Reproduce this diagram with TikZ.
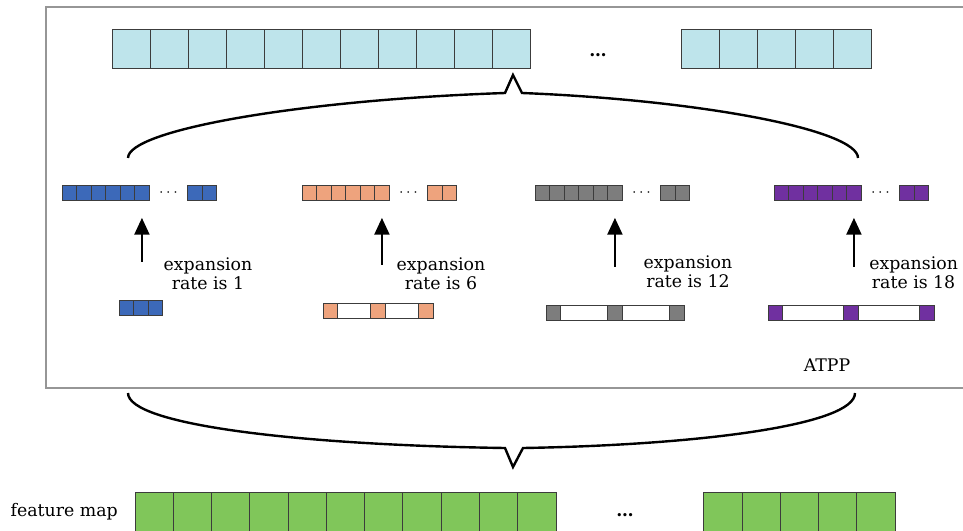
\documentclass[tikz,border=0pt]{standalone}
\usepackage{fontspec}
\setmainfont{DejaVu Serif}
\usepackage{tikz}
\usetikzlibrary{positioning}
\usetikzlibrary{arrows.meta}

\definecolor{cyanc}{RGB}{190,228,235}
\definecolor{bluec}{RGB}{60,105,185}
\definecolor{orangec}{RGB}{238,163,125}
\definecolor{grayc}{RGB}{125,125,125}
\definecolor{purplec}{RGB}{112,48,160}
\definecolor{greenc}{RGB}{128,198,90}
\definecolor{edgec}{RGB}{60,60,60}
\definecolor{framec}{RGB}{150,150,150}

% a row of cells, each one right of the one before
\newcommand{\cellrow}[4]{%
  \node (#1-1) [#3, #4] {};
  \foreach \i [remember=\i as \j (initially 1)] in {2,...,#2}
    \node (#1-\i) [#3, right = 0pt of #1-\j] {};
}

\begin{document}
\begin{tikzpicture}
          [x=0.75pt, y=-0.75pt,
           cellbox/.style={draw=edgec, line width=0.6pt, inner sep=0pt, outer sep=0pt},
           bigcell/.style={cellbox, fill=cyanc, minimum width=28.5pt, minimum height=29.25pt},
           greencell/.style={cellbox, fill=greenc, minimum width=28.7pt, minimum height=29.25pt},
           smallcell/.style={cellbox, minimum width=10.9pt, minimum height=11.25pt},
           dilbox/.style={cellbox, fill=white, minimum height=11.25pt},
           ellip/.style={inner sep=0pt, minimum width=28.5pt, font=\fontsize{13pt}{14pt}\selectfont\bfseries},
           ratetext/.style={font=\fontsize{13pt}{14pt}\selectfont, align=center, inner sep=0pt},
           uparrow/.style={line width=2pt, -{Triangle[length=12.5pt,width=11pt]},
                           shorten >=13pt, shorten <=29pt},
           brace/.style={line width=1.8pt, line join=miter},
           frame/.style={draw=framec, line width=1.1pt}]
          \useasboundingbox (0,0) rectangle (963,531);

          % ATPP frame
          \draw[frame] (46,7) rectangle (970,388);
          \node (atpp) [ratetext] at (827,365) {ATPP};

          % output row
          \cellrow{c}{11}{bigcell}{at={(112.7,48.8)}, anchor=west}
          \cellrow{cr}{5}{bigcell}{right = 112.7pt of c-11}
          \node (cdots) [ellip] at (598,55) {\ldots};

          % branches
          \cellrow{b}{6}{smallcell, fill=bluec}{at={(62,193)}, anchor=west}
          \node (bdots) [ellip, right = 0pt of b-6] {$\cdots$};
          \cellrow{bt}{2}{smallcell, fill=bluec}{right = 0pt of bdots}

          \cellrow{o}{6}{smallcell, fill=orangec}{at={(302,193)}, anchor=west}
          \node (odots) [ellip, right = 0pt of o-6] {$\cdots$};
          \cellrow{ot}{2}{smallcell, fill=orangec}{right = 0pt of odots}

          \cellrow{k}{6}{smallcell, fill=grayc}{at={(535,193)}, anchor=west}
          \node (kdots) [ellip, right = 0pt of k-6] {$\cdots$};
          \cellrow{kt}{2}{smallcell, fill=grayc}{right = 0pt of kdots}

          \cellrow{p}{6}{smallcell, fill=purplec}{at={(774,193)}, anchor=west}
          \node (pdots) [ellip, right = 0pt of p-6] {$\cdots$};
          \cellrow{pt}{2}{smallcell, fill=purplec}{right = 0pt of pdots}

          % kernels
          \cellrow{bs}{3}{smallcell, fill=bluec}{at={(119,308)}, anchor=west}

          \node (os) [dilbox, minimum width=82.5pt] at (378,311) {};
          \node (os1) [smallcell, fill=orangec, anchor=west] at (os.west) {};
          \node (os2) [smallcell, fill=orangec] at (os.center) {};
          \node (os3) [smallcell, fill=orangec, anchor=east] at (os.east) {};

          \node (ks) [dilbox, minimum width=103.5pt] at (615,313) {};
          \node (ks1) [smallcell, fill=grayc, anchor=west] at (ks.west) {};
          \node (ks2) [smallcell, fill=grayc] at (ks.center) {};
          \node (ks3) [smallcell, fill=grayc, anchor=east] at (ks.east) {};

          \node (ps) [dilbox, minimum width=124.5pt] at (851,313) {};
          \node (ps1) [smallcell, fill=purplec, anchor=west] at (ps.west) {};
          \node (ps2) [smallcell, fill=purplec] at (ps.center) {};
          \node (ps3) [smallcell, fill=purplec, anchor=east] at (ps.east) {};

          \draw[uparrow] (bs-2.north -| b-6) -- (b-6.south);
          \draw[uparrow] (os.north -| o-6) -- (o-6.south);
          \draw[uparrow] (ks.north -| k-6) -- (k-6.south);
          \draw[uparrow] (ps.north -| p-6) -- (p-6.south);

          \node (r1) [ratetext] at (208,274) {expansion\\rate is 1};
          \node (r6) [ratetext] at (441,274) {expansion\\rate is 6};
          \node (r12) [ratetext] at (688,272) {expansion\\rate is 12};
          \node (r18) [ratetext, anchor=west] at (869,273) {expansion\\rate is 18};

          % braces
          \coordinate (tl) at (128,158);
          \coordinate (tr) at (858,158);
          \coordinate (tt) at (513,75);
          \draw[brace] (tl) .. controls (128,130) and (300,100) .. (505,93)
                       -- (tt) -- (522,93) .. controls (700,100) and (858,130) .. (tr);

          \coordinate (bl) at (128,393);
          \coordinate (br) at (855,393);
          \coordinate (bb) at (513,467);
          \draw[brace] (bl) .. controls (128,425) and (300,445) .. (505,448)
                       -- (bb) -- (523,448) .. controls (700,445) and (855,425) .. (br);

          % input row
          \cellrow{g}{11}{greencell}{at={(135,511.5)}, anchor=west}
          \cellrow{gr}{5}{greencell}{right = 110.8pt of g-11}
          \node (gdots) [ellip] at (625,515) {\ldots};
          \node (fmap) [ratetext, left = 12.75pt of g-1] {feature map};
        \end{tikzpicture}
\end{document}
